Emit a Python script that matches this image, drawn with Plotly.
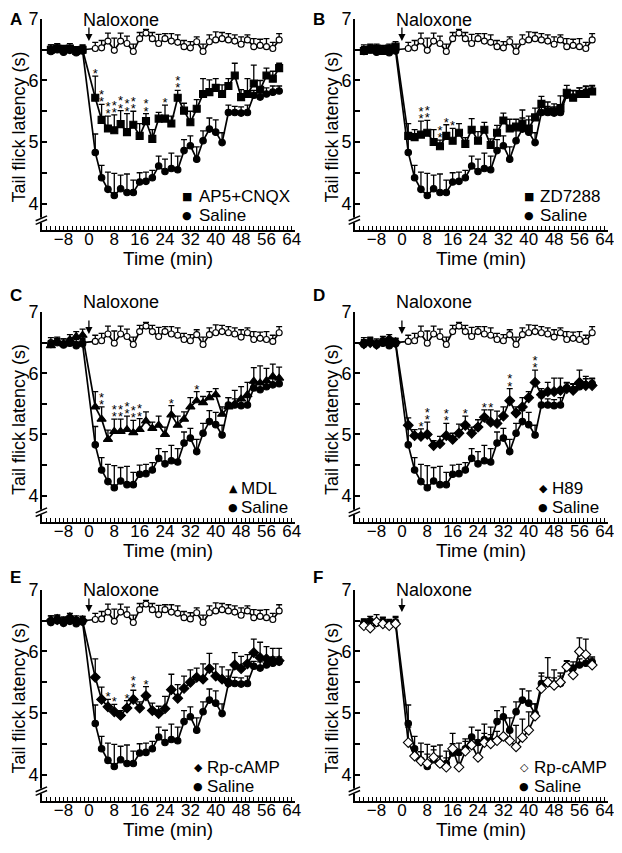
import plotly.graph_objects as go

# sampling times (min), naloxone given at 0
times = [-12, -10, -8, -6, -4, -2, 2, 4, 6, 8, 10, 12, 14, 16, 18, 20, 22, 24, 26, 28,
         30, 32, 34, 36, 38, 40, 42, 44, 46, 48, 50, 52, 54, 56, 58, 60]

# open circles (no naloxone)
control = [6.50, 6.52, 6.48, 6.50, 6.47, 6.50,
           6.52, 6.53, 6.64, 6.49, 6.64, 6.60, 6.47, 6.68, 6.77, 6.68, 6.60, 6.68, 6.64, 6.62,
           6.55, 6.53, 6.63, 6.47, 6.63, 6.66, 6.68, 6.66, 6.64, 6.59, 6.66, 6.55, 6.57, 6.55, 6.52, 6.66]
control_err = [0.08, 0.07, 0.08, 0.07, 0.08, 0.07,
               0.10, 0.12, 0.13, 0.20, 0.13, 0.12, 0.12, 0.10, 0.06, 0.10, 0.15, 0.08, 0.12, 0.12,
               0.10, 0.10, 0.08, 0.12, 0.11, 0.13, 0.10, 0.10, 0.10, 0.12, 0.08, 0.13, 0.10, 0.13, 0.10, 0.10]

saline = [6.47, 6.50, 6.46, 6.49, 6.45, 6.48,
          4.83, 4.42, 4.23, 4.13, 4.24, 4.18, 4.18, 4.35, 4.36, 4.42, 4.61, 4.52, 4.57, 4.55,
          4.86, 4.94, 4.72, 5.02, 5.21, 5.16, 4.99, 5.48, 5.48, 5.47, 5.48, 5.76, 5.73, 5.78, 5.81, 5.83]
saline_err = [0.06, 0.07, 0.06, 0.07, 0.06, 0.07,
              0.30, 0.20, 0.28, 0.36, 0.22, 0.30, 0.20, 0.15, 0.15, 0.12, 0.16, 0.20, 0.25, 0.22,
              0.18, 0.16, 0.20, 0.16, 0.18, 0.20, 0.16, 0.12, 0.10, 0.10, 0.12, 0.08, 0.10, 0.10, 0.10, 0.08]

ap5 = [6.50, 6.52, 6.50, 6.52, 6.48, 6.50,
       5.72, 5.36, 5.22, 5.19, 5.29, 5.16, 5.28, 5.10, 5.34, 5.05, 5.38, 5.38, 5.30, 5.72,
       5.51, 5.32, 5.54, 5.78, 5.81, 5.88, 5.78, 5.91, 6.08, 5.73, 5.78, 5.95, 5.85, 6.08, 6.03, 6.20]
ap5_err = [0.08, 0.08, 0.07, 0.08, 0.07, 0.08,
           0.35, 0.25, 0.20, 0.25, 0.22, 0.30, 0.22, 0.20, 0.12, 0.15, 0.10, 0.22, 0.12, 0.12,
           0.12, 0.18, 0.15, 0.25, 0.20, 0.15, 0.15, 0.12, 0.20, 0.12, 0.25, 0.30, 0.15, 0.12, 0.12, 0.08]

zd7288 = [6.48, 6.50, 6.52, 6.48, 6.52, 6.55,
          5.10, 5.08, 5.12, 5.15, 5.00, 4.93, 5.10, 5.02, 5.15, 4.97, 5.20, 5.02, 5.20, 4.95,
          5.15, 5.35, 5.22, 5.25, 5.30, 5.22, 5.40, 5.62, 5.50, 5.50, 5.55, 5.80, 5.72, 5.78, 5.78, 5.82]
zd7288_err = [0.07, 0.08, 0.07, 0.08, 0.07, 0.08,
              0.20, 0.12, 0.22, 0.20, 0.20, 0.10, 0.18, 0.20, 0.15, 0.10, 0.18, 0.15, 0.12, 0.10,
              0.12, 0.12, 0.15, 0.12, 0.22, 0.20, 0.15, 0.12, 0.15, 0.12, 0.20, 0.12, 0.12, 0.10, 0.12, 0.10]

mdl = [6.45, 6.50, 6.48, 6.55, 6.60, 6.62,
       5.45, 5.25, 4.92, 5.05, 5.05, 5.08, 5.03, 5.08, 5.22, 5.10, 5.15, 5.00, 5.32, 5.15,
       5.25, 5.45, 5.55, 5.52, 5.60, 5.65, 5.33, 5.45, 5.50, 5.58, 5.65, 5.87, 5.84, 5.88, 5.95, 5.92]
mdl_err = [0.08, 0.07, 0.08, 0.08, 0.08, 0.10,
           0.25, 0.20, 0.15, 0.20, 0.20, 0.22, 0.20, 0.18, 0.15, 0.10, 0.15, 0.12, 0.15, 0.15,
           0.12, 0.15, 0.15, 0.10, 0.10, 0.10, 0.12, 0.15, 0.22, 0.20, 0.20, 0.22, 0.28, 0.20, 0.20, 0.18]

h89 = [6.48, 6.50, 6.47, 6.52, 6.55, 6.50,
       5.15, 4.98, 4.97, 5.00, 4.82, 4.85, 4.98, 4.92, 5.02, 5.15, 5.02, 5.12, 5.28, 5.20,
       5.18, 5.30, 5.55, 5.35, 5.45, 5.60, 5.85, 5.65, 5.70, 5.70, 5.72, 5.75, 5.72, 5.85, 5.80, 5.80]
h89_err = [0.07, 0.08, 0.07, 0.08, 0.08, 0.07,
           0.12, 0.10, 0.12, 0.20, 0.08, 0.12, 0.20, 0.10, 0.15, 0.15, 0.10, 0.12, 0.12, 0.20,
           0.20, 0.15, 0.20, 0.10, 0.15, 0.10, 0.20, 0.10, 0.15, 0.22, 0.20, 0.10, 0.10, 0.20, 0.15, 0.12]

rp_camp = [6.50, 6.52, 6.48, 6.55, 6.50, 6.50,
           5.58, 5.22, 5.10, 5.02, 4.96, 5.08, 5.22, 5.08, 5.28, 5.04, 4.99, 5.07, 5.38, 5.24,
           5.40, 5.50, 5.58, 5.55, 5.72, 5.60, 5.55, 5.50, 5.78, 5.72, 5.80, 5.98, 5.90, 5.88, 5.85, 5.85]
rp_camp_err = [0.08, 0.07, 0.08, 0.07, 0.08, 0.07,
               0.30, 0.20, 0.12, 0.12, 0.08, 0.12, 0.15, 0.10, 0.15, 0.12, 0.12, 0.20, 0.25, 0.22,
               0.20, 0.20, 0.15, 0.25, 0.25, 0.20, 0.20, 0.20, 0.20, 0.20, 0.15, 0.22, 0.25, 0.20, 0.20, 0.20]

rp_camp_alone = [6.42, 6.38, 6.48, 6.45, 6.42, 6.45,
                 4.52, 4.30, 4.22, 4.18, 4.28, 4.18, 4.12, 4.42, 4.12, 4.38, 4.48, 4.28, 4.52, 4.50,
                 4.55, 4.62, 4.55, 4.45, 4.60, 4.72, 4.95, 5.40, 5.50, 5.45, 5.50, 5.75, 5.62, 6.00, 5.95, 5.78]
rp_camp_alone_err = [0.10, 0.12, 0.12, 0.10, 0.10, 0.12,
                     0.25, 0.15, 0.15, 0.15, 0.12, 0.12, 0.15, 0.25, 0.20, 0.20, 0.15, 0.20, 0.15, 0.15,
                     0.15, 0.30, 0.15, 0.35, 0.30, 0.30, 0.20, 0.25, 0.40, 0.25, 0.15, 0.10, 0.15, 0.22, 0.25, 0.10]

# significance marks: time, number of asterisks
stars_a = ([2, 4, 6, 8, 10, 12, 14, 18, 24, 28], [1, 2, 2, 2, 2, 2, 2, 2, 1, 2])
stars_b = ([6, 8, 12, 14, 16], [2, 2, 2, 1, 1])
stars_c = ([4, 8, 10, 12, 14, 16, 26, 34], [2, 2, 2, 2, 2, 2, 1, 1])
stars_d = ([6, 8, 14, 20, 26, 28, 34, 42], [1, 2, 2, 1, 1, 1, 2, 2])
stars_e = ([6, 8, 12, 14, 18], [1, 1, 1, 2, 1])
stars_f = ([], [])

x_ticks = [-8, 0, 8, 16, 24, 32, 40, 48, 56, 64]
y_ticks = [4, 4.5, 5, 5.5, 6, 6.5, 7]
y_ticktext = ["4", "", "5", "", "6", "", "7"]

FONT = "Liberation Sans, Arial, sans-serif"

# letter, drug label, values, errors, marker symbol, legend glyph, open marker, control shown, stars
panels = [
    ("A", "AP5+CNQX", ap5, ap5_err, "square", "■", False, True, stars_a),
    ("B", "ZD7288", zd7288, zd7288_err, "square", "■", False, True, stars_b),
    ("C", "MDL", mdl, mdl_err, "triangle-up", "▲", False, True, stars_c),
    ("D", "H89", h89, h89_err, "diamond", "◆", False, True, stars_d),
    ("E", "Rp-cAMP", rp_camp, rp_camp_err, "diamond", "◆", False, True, stars_e),
    ("F", "Rp-cAMP", rp_camp_alone, rp_camp_alone_err, "diamond", "◇", True, False, stars_f),
]

# figure is drawn inside the page's default 8px body margin
col_x = [[0.0561, 0.4736], [0.5726, 0.9901]]
row_y = [[0.7348, 0.9869], [0.3859, 0.6368], [0.0526, 0.3047]]
letter_x = [0.0, 0.5]
letter_y = [1.0, 0.6703, 0.3333]
naloxone_y = [1.0, 0.6631, 0.3190]
legend_x = [(0.573, 0.613), (0.688, 0.722), (0.755, 0.78), (0.745, 0.772), (0.617, 0.646), (0.668, 0.70)]

fig = go.Figure()
layout = {}
annotations = []
shapes = []


def add_series(xa, ya, vals, errs, symbol, size, fill):
    fig.add_trace(go.Scatter(
        x=times, y=vals, xaxis=xa, yaxis=ya, mode="lines+markers",
        line=dict(color="black", width=1.7),
        marker=dict(symbol=symbol, size=size, color=fill, line=dict(color="black", width=1.1)),
        error_y=dict(type="data", array=errs, arrayminus=[0] * len(errs), symmetric=False,
                     color="black", thickness=1.3, width=3),
        cliponaxis=False, hoverinfo="skip",
    ))


def txt(size, **kw):
    return dict(font=dict(family=FONT, size=size, color="black"), showarrow=False, **kw)


for i, (letter, name, vals, errs, symbol, glyph, open_mk, show_ctrl, stars) in enumerate(panels, start=1):
    r, c = (i - 1) // 2, (i - 1) % 2
    sfx = "" if i == 1 else str(i)
    xa, ya = "x" + sfx, "y" + sfx

    if show_ctrl:
        add_series(xa, ya, control, control_err, "circle", 6, "white")
    add_series(xa, ya, saline, saline_err, "circle", 6.5, "black")
    msize = {"square": 7, "triangle-up": 8, "diamond": 7.5}[symbol]
    add_series(xa, ya, vals, errs, symbol, msize, "white" if open_mk else "black")

    st_t, st_n = stars
    if st_t:
        sx, sy = [], []
        for t, n in zip(st_t, st_n):
            k = times.index(t)
            for j in range(n):
                sx.append(t)
                sy.append(vals[k] + errs[k] + 0.02 + 0.12 * j)
        fig.add_trace(go.Scatter(
            x=sx, y=sy, xaxis=xa, yaxis=ya, mode="text", text=["*"] * len(sx),
            textposition="middle center",
            textfont=dict(family=FONT, size=13, color="black"), cliponaxis=False, hoverinfo="skip",
        ))

    layout["xaxis" + sfx] = dict(
        domain=col_x[c], anchor=ya, range=[-14.8, 65], showline=True, linewidth=2, linecolor="black",
        ticks="inside", ticklen=4, tickwidth=1.3, tickcolor="black", tickvals=x_ticks,
        minor=dict(ticks="inside", ticklen=4, tickwidth=1.3, tickcolor="black", dtick=4 / 3, tick0=0),
        tickfont=dict(family=FONT, size=17, color="black"), showgrid=False, zeroline=False,
        automargin=False, ticklabelstandoff=-7, ticklabeloverflow="allow",
    )
    layout["yaxis" + sfx] = dict(
        domain=row_y[r], anchor=xa, range=[3.57, 7.0], showline=True, linewidth=2, linecolor="black",
        ticks="inside", ticklen=5, tickwidth=1.5, tickcolor="black", tickvals=y_ticks, ticktext=y_ticktext,
        tickfont=dict(family=FONT, size=18, color="black"), showgrid=False, zeroline=False,
        automargin=False, ticklabeloverflow="allow", ticklabelstandoff=-2,
    )

    # axis titles
    annotations.append(txt(19, text="Time (min)", xref=xa + " domain", yref=ya + " domain",
                           x=0.5, y=0, xanchor="center", yanchor="top", yshift=-16))
    annotations.append(txt(18, text="Tail flick latency (s)", xref=xa + " domain", yref=ya + " domain",
                           x=0, y=0.49, xanchor="center", yanchor="middle", xshift=-23, textangle=-90))
    # panel letter
    annotations.append(txt(17, text="<b>%s</b>" % letter, xref="paper", yref="paper",
                           x=letter_x[c], y=letter_y[r], xanchor="left", yanchor="top"))
    # naloxone arrow and label
    annotations.append(txt(18, text="Naloxone", xref=xa, yref="paper", x=-2.4, y=naloxone_y[r],
                           xanchor="left", yanchor="top"))
    annotations.append(dict(text="", xref=xa, yref=ya, x=0, y=6.64, ax=0, ay=-15, showarrow=True,
                            arrowhead=2, arrowsize=1.1, arrowwidth=1.3, arrowcolor="black"))
    # legend
    gx, tx = legend_x[i - 1]
    for row_pos, (g, label) in zip((0.16, 0.07), ((glyph, name), ("●", "Saline"))):
        annotations.append(dict(text=g, xref=xa + " domain", yref=ya + " domain", x=gx, y=row_pos,
                                xanchor="center", yanchor="middle", showarrow=False,
                                font=dict(family="DejaVu Sans", size=11, color="black")))
        annotations.append(txt(17, text=label, xref=xa + " domain", yref=ya + " domain", x=tx, y=row_pos,
                               xanchor="left", yanchor="middle"))
    # axis break on the y axis
    shapes.append(dict(type="rect", xref=xa + " domain", yref=ya, x0=-0.015, x1=0.015, y0=3.69, y1=3.77,
                       fillcolor="white", line=dict(width=0), layer="above"))
    for y0 in (3.66, 3.72):
        shapes.append(dict(type="line", xref=xa + " domain", yref=ya, x0=-0.025, x1=0.02,
                           y0=y0, y1=y0 + 0.08, line=dict(color="black", width=1.5), layer="above"))

fig.update_layout(
    width=606, height=837, margin=dict(l=0, r=0, t=0, b=0),
    paper_bgcolor="white", plot_bgcolor="white", showlegend=False,
    annotations=annotations, shapes=shapes, **layout,
)

fig.write_html("out.html")
